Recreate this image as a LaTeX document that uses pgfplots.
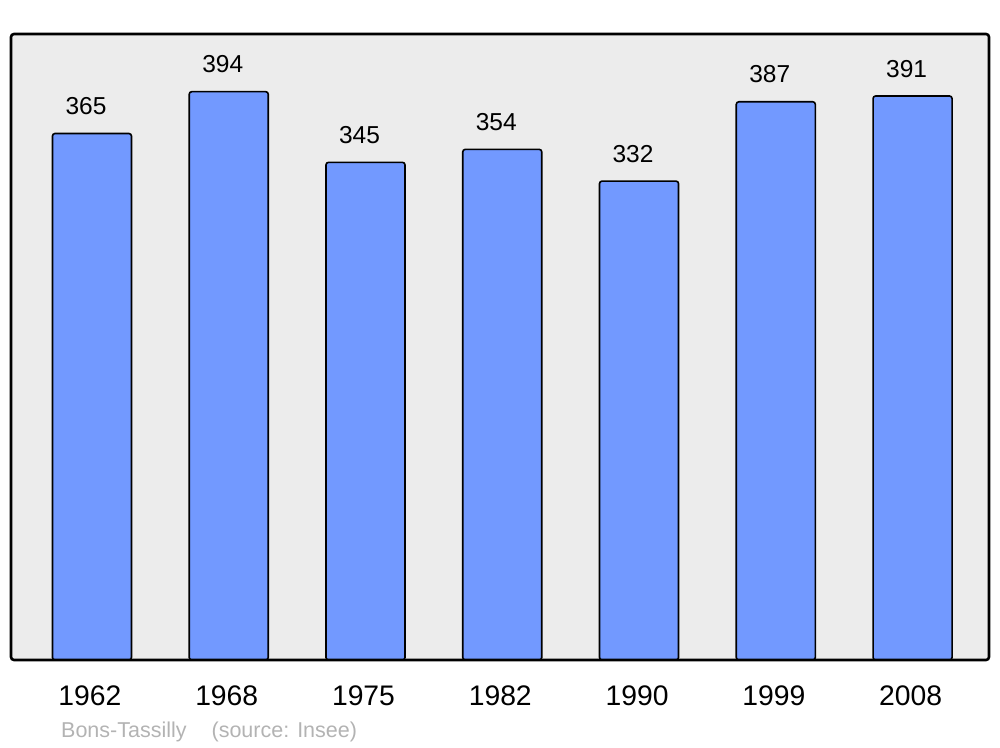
\documentclass[border=0pt]{standalone}
\usepackage{pgfplots}
\pgfplotsset{compat=1.18}
\usepackage{fontspec}
\setmainfont{Liberation Sans}
\definecolor{barblue}{HTML}{7299FF}
\definecolor{bggray}{HTML}{ECECEC}
\definecolor{footgray}{HTML}{B3B3B3}
\begin{document}
\begin{tikzpicture}[x=1pt,y=1pt]
\path (0,0) rectangle (1000,747);
\begin{axis}[
  at={(11pt,87pt)}, anchor=south west,
  scale only axis, width=978pt, height=626pt,
  xmin=-0.592, xmax=6.559, ymin=0, ymax=434,
  axis line style={draw=none},
  major tick style={draw=none},
  axis background/.style={fill=bggray},
  /pgf/number format/assume math mode=true,
  ytick=\empty,
  xtick={0,1,2,3,4,5,6},
  xticklabels={1962,1968,1975,1982,1990,1999,2008},
  xticklabel style={anchor=base, inner sep=0pt, yshift=-41pt, xshift=-2pt, font=\fontsize{28.3}{30}\selectfont},
  ybar, bar width=79pt,
  nodes near coords,
  every node near coord/.append style={anchor=base, inner sep=0pt, yshift=19pt, xshift=-6pt, font=\fontsize{24.5}{28}\selectfont, text=black},
  clip=false,
]
\addplot[fill=barblue, draw=black, line width=1.6pt, rounded corners=2.5pt] coordinates {(0,365) (1,394) (2,345) (3,354) (4,332) (5,387) (6,391)};
\draw[black, line width=2.6pt, rounded corners=3pt] (rel axis cs:0,0) rectangle (rel axis cs:1,1);
\end{axis}
\node[anchor=base west, inner sep=0pt, text=footgray, font=\fontsize{21.5}{24}\selectfont] at (61,10) {Bons-Tassilly\hspace{25pt}(source: Insee)};
\end{tikzpicture}
\end{document}
